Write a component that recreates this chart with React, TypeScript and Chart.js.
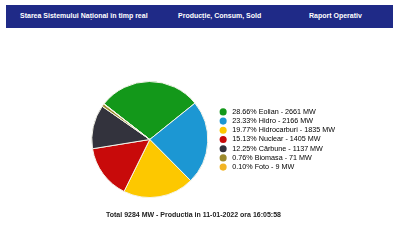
import React, { useEffect, useRef } from "react";
import { Chart, registerables } from "chart.js";

Chart.register(...registerables);

const sources = ["Eolian", "Hidro", "Hidrocarburi", "Nuclear", "Carbune", "Biomasa", "Foto"];
const legendNames = ["Eolian", "Hidro", "Hidrocarburi", "Nuclear", "Cărbune", "Biomasa", "Foto"];
const valuesMW = [2661, 2166, 1835, 1405, 1137, 71, 9];
const percents = ["28.66%", "23.33%", "19.77%", "15.13%", "12.25%", "0.76%", "0.10%"];
const colors = ["#13981a", "#1c97d3", "#fdc800", "#c80a0a", "#33333d", "#9c8a2d", "#f2b424"];
const headerItems = ["Starea Sistemului Național în timp real", "Producție, Consum, Sold", "Raport Operativ"];
const totalText = "Total 9284 MW - Productia in 11-01-2022 ora 16:05:58";

export default function App() {
  const ref = useRef<HTMLCanvasElement>(null);
  useEffect(() => {
    document.body.style.margin = "0";
    const chart = new Chart(ref.current!, {
      type: "pie",
      data: {
        labels: sources,
        datasets: [
          {
            data: valuesMW,
            backgroundColor: colors,
            borderColor: "#f4f4ea",
            borderWidth: 1,
          },
        ],
      },
      options: {
        animation: false,
        responsive: false,
        rotation: -52,
        layout: { padding: { left: 82, right: 55, top: 81, bottom: 42 } },
        plugins: {
          tooltip: { enabled: false },
          legend: {
            position: "right",
            labels: {
              usePointStyle: true,
              pointStyle: "circle",
              boxWidth: 7.2,
              boxHeight: 5,
              padding: 2,
              color: "#3a3a3a",
              font: { family: "Liberation Sans, Arial", size: 7.2, lineHeight: 1 },
              generateLabels: () =>
                legendNames.map((n, i) => ({
                  text: ` ${percents[i]} ${n} - ${valuesMW[i]} MW`,
                  fillStyle: colors[i],
                  strokeStyle: colors[i],
                  lineWidth: 0,
                  pointStyle: "circle",
                  hidden: false,
                  index: i,
                  datasetIndex: 0,
                })),
            },
          },
        },
      },
    });
    return () => chart.destroy();
  }, []);

  const hx = [20, 178, 309];
  return (
    <div style={{ position: "relative", width: 400, height: 240, background: "#fff", fontFamily: "Liberation Sans, Arial, sans-serif" }}>
      <div style={{ position: "absolute", left: 6, top: 5, width: 387, height: 23, background: "#1f2a87" }} />
      {headerItems.map((t, i) => (
        <div
          key={t}
          style={{ position: "absolute", left: hx[i], top: 12, fontSize: 7, fontWeight: "bold", color: "#fff", whiteSpace: "nowrap", lineHeight: "8px" }}
        >
          {t}
        </div>
      ))}
      <canvas ref={ref} width={400} height={240} style={{ position: "absolute", left: 0, top: 0 }} />
      <div style={{ position: "absolute", left: 106, top: 211, fontSize: 7, fontWeight: "bold", color: "#222", whiteSpace: "nowrap", lineHeight: "8px" }}>
        {totalText}
      </div>
    </div>
  );
}
